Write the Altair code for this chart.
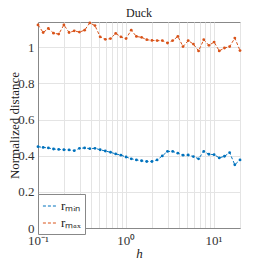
import altair as alt
import pandas as pd
import numpy as np

h_values = list(np.logspace(-1, np.log10(20), 40))

r_min = [0.450, 0.446, 0.443, 0.437, 0.435, 0.433, 0.432, 0.428, 0.441, 0.443,
         0.439, 0.441, 0.433, 0.426, 0.419, 0.410, 0.403, 0.393, 0.383, 0.377,
         0.372, 0.368, 0.368, 0.377, 0.399, 0.424, 0.424, 0.414, 0.403, 0.404,
         0.395, 0.383, 0.424, 0.408, 0.406, 0.388, 0.397, 0.417, 0.350, 0.377]

r_max = [1.124, 1.082, 1.104, 1.078, 1.073, 1.124, 1.082, 1.091, 1.084, 1.095,
         1.135, 1.120, 1.058, 1.044, 1.048, 1.077, 1.058, 1.048, 1.095, 1.060,
         1.055, 1.042, 1.038, 1.037, 1.037, 1.024, 1.037, 1.060, 1.004, 1.037,
         1.018, 0.980, 1.042, 1.011, 1.029, 0.980, 0.996, 1.004, 1.051, 0.982]

series_names = ["r\u2098\u1d62\u2099", "r\u2098\u2090\u2093"]
series_colors = ["#0072BD", "#D95319"]

x_grid_values = [0.1, 0.2, 0.3, 0.4, 0.5, 0.6, 0.7, 0.8, 0.9,
                 1, 2, 3, 4, 5, 6, 7, 8, 9, 10, 20]
y_ticks = [0, 0.2, 0.4, 0.6, 0.8, 1]

df = pd.concat([
    pd.DataFrame({"h": h_values, "v": r_min, "s": series_names[0]}),
    pd.DataFrame({"h": h_values, "v": r_max, "s": series_names[1]}),
])

FONT = "Liberation Serif"

x_enc = alt.X("h:Q", scale=alt.Scale(type="log", domain=[0.1, 20], nice=False),
              axis=alt.Axis(values=x_grid_values,
                            labelExpr="datum.value == 0.1 ? '10\u207b\u00b9' : datum.value == 1 ? '10\u2070' : datum.value == 10 ? '10\u00b9' : ''",
                            labelOverlap=False, labelFlush=False, labelBound=False,
                            title="h", titleFontStyle="italic", titleFontWeight="normal",
                            titleFontSize=13, titlePadding=0, labelFontSize=13, labelPadding=6,
                            ticks=False))
y_enc = alt.Y("v:Q", scale=alt.Scale(domain=[0, 1.14], nice=False, zero=False),
              axis=alt.Axis(values=y_ticks, format="~g", title="Normalized distance",
                            titleFontSize=13, titleFontWeight="normal", titleX=-17,
                            labelFontSize=13, labelPadding=4, ticks=False))
color_enc = alt.Color("s:N", scale=alt.Scale(domain=series_names, range=series_colors),
                      legend=alt.Legend(title=None, orient="none", legendX=0, legendY=172,
                                        fillColor="white", strokeColor="#888888",
                                        padding=4, symbolType="stroke", symbolSize=200,
                                        symbolStrokeWidth=1, symbolDash=[3, 2],
                                        labelFontSize=13, rowPadding=2, labelOffset=3))

base = alt.Chart(df)
lines = base.mark_line(strokeWidth=1, strokeDash=[3, 2]).encode(x=x_enc, y=y_enc, color=color_enc)
points = base.mark_point(filled=True, size=8, opacity=1).encode(x=x_enc, y=y_enc, color=color_enc)

chart = alt.layer(lines, points).properties(
    width=202, height=206,
    title=alt.Title("Duck", fontSize=12, fontWeight="normal", font=FONT, offset=1, color="#222222"),
    autosize=alt.AutoSizeParams(type="none"),
    padding={"left": 30, "top": 14, "right": 18, "bottom": 30},
).configure(font=FONT).configure_axis(
    gridColor="#e4e4e4", gridOpacity=1, domainColor="#888888", labelColor="#333333",
    titleColor="#222222", labelFont=FONT, titleFont=FONT,
).configure_view(stroke="#888888", strokeWidth=1).configure_legend(
    labelFont=FONT, labelColor="#222222")

chart.save("out.html", embed_options={"renderer": "svg", "actions": False})
